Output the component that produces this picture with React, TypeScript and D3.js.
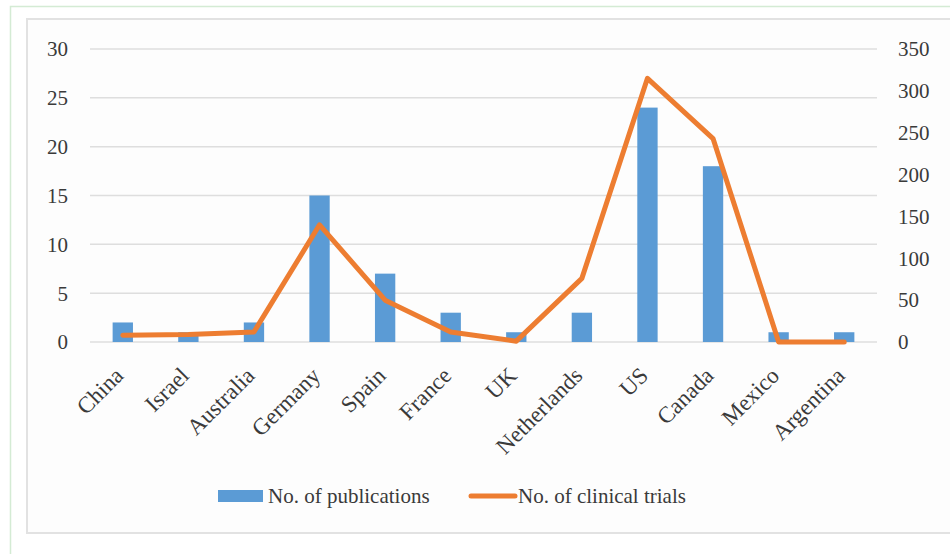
import React from "react";
import * as d3 from "d3";

const countries = ["China", "Israel", "Australia", "Germany", "Spain", "France", "UK", "Netherlands", "US", "Canada", "Mexico", "Argentina"];
const publications = [2, 1, 2, 15, 7, 3, 1, 3, 24, 18, 1, 1];
const clinicalTrials = [8, 9, 12, 140, 50, 12, 1, 76, 315, 243, 0, 0];
const leftTicks = [0, 5, 10, 15, 20, 25, 30];
const rightTicks = [0, 50, 100, 150, 200, 250, 300, 350];
const seriesNames = ["No. of publications", "No. of clinical trials"];

const W = 950;
const H = 554;
const plotLeft = 90;
const plotRight = 877;
const plotTop = 49;
const plotBottom = 342;
const BLUE = "#5B9BD5";
const ORANGE = "#ED7D31";
const TEXT = "#3a3a3a";
const FONT = "Liberation Serif, Times New Roman, DejaVu Serif, serif";
const ts: React.CSSProperties = { fontFamily: FONT, fontSize: 21 };
const xs: React.CSSProperties = { fontFamily: FONT, fontSize: 23 };

export default function App() {
  const x = d3.scaleBand<string>().domain(countries).range([plotLeft, plotRight]).paddingInner(0).paddingOuter(0);
  const yL = d3.scaleLinear().domain([0, 30]).range([plotBottom, plotTop]);
  const yR = d3.scaleLinear().domain([0, 350]).range([plotBottom, plotTop]);
  const barW = x.bandwidth() * 0.31;
  const line = d3
    .line<number>()
    .x((_, i) => (x(countries[i]) as number) + x.bandwidth() / 2)
    .y((d) => yR(d));

  return (
    <svg width={W} height={H} style={{ position: "absolute", left: 0, top: 0, background: "#fff" }}>
      <rect x={10.5} y={6.5} width={W + 10} height={H + 10} fill="#fff" stroke="#d4ebd4" strokeWidth={1.5} />
      <rect x={27} y={19} width={W} height={514} fill="#fdfdfd" stroke="#e2e2e2" strokeWidth={2} />
      {leftTicks.map((t) => (
        <g key={"l" + t}>
          <line x1={plotLeft} x2={plotRight} y1={yL(t)} y2={yL(t)} stroke="#dedede" strokeWidth={1.5} />
          <text x={68} y={yL(t)} dy="0.35em" textAnchor="end" style={ts} fill={TEXT}>
            {t}
          </text>
        </g>
      ))}
      {rightTicks.map((t) => (
        <text key={"r" + t} x={898} y={yR(t)} dy="0.35em" textAnchor="start" style={ts} fill={TEXT}>
          {t}
        </text>
      ))}
      {countries.map((c, i) => {
        const cx = (x(c) as number) + x.bandwidth() / 2;
        return (
          <rect key={c} x={cx - barW / 2} y={yL(publications[i])} width={barW} height={plotBottom - yL(publications[i])} fill={BLUE} />
        );
      })}
      <path d={line(clinicalTrials) || ""} fill="none" stroke={ORANGE} strokeWidth={5} strokeLinejoin="round" strokeLinecap="round" />
      {countries.map((c) => {
        const cx = (x(c) as number) + x.bandwidth() / 2;
        return (
          <text key={"t" + c} transform={`translate(${cx + 2},${377}) rotate(-45)`} textAnchor="end" style={xs} fill={TEXT}>
            {c}
          </text>
        );
      })}
      <rect x={218} y={490} width={45} height={12} fill={BLUE} />
      <text x={268} y={503} style={ts} fill={TEXT}>
        {seriesNames[0]}
      </text>
      <line x1={471} x2={515} y1={496} y2={496} stroke={ORANGE} strokeWidth={5} strokeLinecap="round" />
      <text x={518} y={503} style={ts} fill={TEXT}>
        {seriesNames[1]}
      </text>
    </svg>
  );
}
